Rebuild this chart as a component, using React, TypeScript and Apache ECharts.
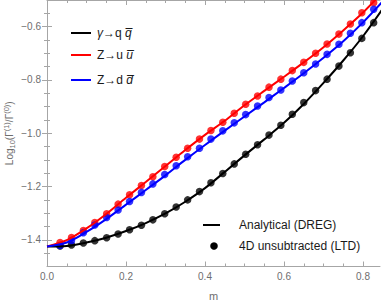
import React, { useEffect, useRef } from "react";
import * as echarts from "echarts";

// m values of the 4D unsubtracted (LTD) points
const mDots = [
  0.033, 0.062, 0.092, 0.121, 0.151, 0.18, 0.209, 0.239, 0.268, 0.298, 0.327, 0.356, 0.386, 0.415,
  0.445, 0.474, 0.503, 0.533, 0.562, 0.592, 0.621, 0.65, 0.68, 0.709, 0.739, 0.768, 0.797, 0.827,
];
const blackDots = [
  -1.423, -1.419, -1.412, -1.403, -1.392, -1.378, -1.362, -1.345, -1.325, -1.302, -1.277, -1.25, -1.219, -1.186,
  -1.151, -1.115, -1.079, -1.043, -1.007, -0.97, -0.929, -0.885, -0.84, -0.797, -0.748, -0.698, -0.644, -0.585,
];
const redDots = [
  -1.41, -1.391, -1.365, -1.335, -1.302, -1.266, -1.231, -1.196, -1.163, -1.125, -1.09, -1.056, -1.022, -0.99,
  -0.959, -0.925, -0.891, -0.86, -0.827, -0.797, -0.765, -0.734, -0.7, -0.665, -0.628, -0.59, -0.548, -0.51,
];
const blueDots = [
  -1.421, -1.403, -1.373, -1.344, -1.316, -1.288, -1.256, -1.222, -1.19, -1.155, -1.122, -1.088, -1.056, -1.022,
  -0.991, -0.961, -0.93, -0.898, -0.866, -0.838, -0.804, -0.773, -0.74, -0.704, -0.666, -0.625, -0.585, -0.535,
];

// Analytical (DREG) curves
const mLine = [0, 0.05, 0.1, 0.15, 0.2, 0.25, 0.3, 0.35, 0.4, 0.45, 0.5, 0.55, 0.6, 0.65, 0.7, 0.75, 0.8, 0.85];
const blackLine = [
  -1.425, -1.423, -1.41, -1.392, -1.367, -1.337, -1.301, -1.257, -1.206, -1.145, -1.083, -1.023, -0.961, -0.89,
  -0.811, -0.727, -0.636, -0.533,
];
const redLine = [
  -1.425, -1.401, -1.357, -1.303, -1.242, -1.183, -1.123, -1.063, -1.006, -0.953, -0.895, -0.841, -0.788, -0.734,
  -0.677, -0.614, -0.547, -0.47,
];
const blueLine = [
  -1.425, -1.41, -1.37, -1.322, -1.268, -1.213, -1.158, -1.1, -1.044, -0.99, -0.937, -0.884, -0.83, -0.775,
  -0.717, -0.655, -0.584, -0.505,
];

const xMajor = [0, 0.2, 0.4, 0.6, 0.8];
const xMinor = [0.05, 0.1, 0.15, 0.25, 0.3, 0.35, 0.45, 0.5, 0.55, 0.65, 0.7, 0.75];
const yMajor = [-1.4, -1.2, -1.0, -0.8, -0.6];
const yMinor = [-1.45, -1.35, -1.3, -1.25, -1.15, -1.1, -1.05, -0.95, -0.9, -0.85, -0.75, -0.7, -0.65, -0.55];

const X_MIN = 0;
const X_MAX = 0.843;
const Y_MIN = -1.5;
const Y_MAX = -0.5;

const FRAME = "#a6a6a6";
const LABEL = "#6e6e6e";
const FONT = "Liberation Sans, Arial, sans-serif";

export default function App() {
  const ref = useRef<HTMLDivElement>(null);
  useEffect(() => {
    if (!ref.current) return;
    const chart = echarts.init(ref.current, null, { renderer: "svg" });
    const fmt = (v: number) => (v < 0 ? "\u2212" + Math.abs(v).toFixed(1) : v.toFixed(1));
    const frameX = (pos: string, grid: number, vals: number[], len: number, major: boolean, labels: boolean) => ({
      type: "value",
      gridIndex: grid,
      position: pos,
      min: X_MIN,
      max: X_MAX,
      axisLine: { show: major, lineStyle: { color: FRAME, width: 1 } },
      axisTick: { show: true, inside: true, length: len, customValues: vals, lineStyle: { color: FRAME } },
      axisLabel: labels
        ? { show: true, customValues: vals, formatter: fmt, color: LABEL, fontSize: 10, fontFamily: FONT, margin: 5 }
        : { show: false },
      splitLine: { show: false },
    });
    const frameY = (pos: string, grid: number, vals: number[], len: number, major: boolean, labels: boolean) => ({
      type: "value",
      gridIndex: grid,
      position: pos,
      min: Y_MIN,
      max: Y_MAX,
      axisLine: { show: major, lineStyle: { color: FRAME, width: 1 } },
      axisTick: { show: true, inside: true, length: len, customValues: vals, lineStyle: { color: FRAME } },
      axisLabel: labels
        ? { show: true, customValues: vals, formatter: fmt, color: LABEL, fontSize: 10, fontFamily: FONT, margin: 6 }
        : { show: false },
      splitLine: { show: false },
    });
    const xa0: any = frameX("bottom", 0, xMajor, 5, true, true);
    xa0.name = "m";
    xa0.nameLocation = "middle";
    xa0.nameGap = 24;
    xa0.nameMoveOverlap = false;
    xa0.nameTextStyle = { color: LABEL, fontSize: 11, fontFamily: FONT };
    const ya0: any = frameY("left", 0, yMajor, 5, true, true);
    ya0.name = "Log{sub|10}(Γ{sup|(1)}/Γ{sup|(0)})";
    ya0.nameLocation = "middle";
    ya0.nameGap = 31;
    ya0.nameMoveOverlap = false;
    ya0.nameRotate = 90;
    ya0.nameTextStyle = {
      color: LABEL,
      fontSize: 10,
      fontFamily: FONT,
      lineHeight: 14,
      rich: {
        sub: { fontSize: 7.5, color: LABEL, fontFamily: FONT, verticalAlign: "bottom", lineHeight: 14 },
        sup: { fontSize: 7.5, color: LABEL, fontFamily: FONT, verticalAlign: "top", lineHeight: 14 },
      },
    };

    const lineSeries = (data: number[], color: string) => ({
      type: "line",
      xAxisIndex: 0,
      yAxisIndex: 0,
      data: mLine.map((m, i) => [m, data[i]]),
      showSymbol: false,
      smooth: 0.3,
      lineStyle: { color, width: 2 },
      clip: true,
      silent: true,
    });
    const dotSeries = (data: number[], color: string) => ({
      type: "scatter",
      xAxisIndex: 0,
      yAxisIndex: 0,
      data: mDots.map((m, i) => [m, data[i]]),
      symbol: "circle",
      symbolSize: 7.5,
      itemStyle: { color },
      clip: true,
      silent: true,
    });

    const txt = { fontSize: 12, fontFamily: FONT, fill: "#1a1a1a" };
    const gridBox = { left: 47, right: 2, top: 0, bottom: 36.5, containLabel: false, outerBoundsMode: "none" };
    chart.setOption({
      animation: false,
      grid: [{ ...gridBox }, { ...gridBox }],
      xAxis: [
        xa0,
        frameX("top", 0, xMajor, 5, true, false),
        frameX("bottom", 1, xMinor, 3, false, false),
        frameX("top", 1, xMinor, 3, false, false),
      ],
      yAxis: [
        ya0,
        frameY("right", 0, yMajor, 5, true, false),
        frameY("left", 1, yMinor, 3, false, false),
        frameY("right", 1, yMinor, 3, false, false),
      ],
      series: [
        lineSeries(blackLine, "#000000"),
        lineSeries(redLine, "#ff0000"),
        lineSeries(blueLine, "#0000ff"),
        dotSeries(blackDots, "#000000"),
        dotSeries(redDots, "#ff0000"),
        dotSeries(blueDots, "#0000ff"),
      ],
      graphic: [
        { type: "line", shape: { x1: 71, y1: 33, x2: 91, y2: 33 }, style: { stroke: "#000", lineWidth: 2 } },
        { type: "line", shape: { x1: 71, y1: 55, x2: 91, y2: 55 }, style: { stroke: "#ff0000", lineWidth: 2 } },
        { type: "line", shape: { x1: 71, y1: 80, x2: 91, y2: 80 }, style: { stroke: "#0000ff", lineWidth: 2 } },
        {
          type: "text",
          x: 97,
          y: 33,
          style: {
            text: "{i|γ}→q {i|q\u0305}",
            ...txt,
            verticalAlign: "middle",
            rich: { i: { fontStyle: "italic", fontSize: 12, fontFamily: FONT, fill: "#1a1a1a" } },
          },
        },
        {
          type: "text",
          x: 97,
          y: 55,
          style: {
            text: "Z→u {i|u\u0305}",
            ...txt,
            verticalAlign: "middle",
            rich: { i: { fontStyle: "italic", fontSize: 12, fontFamily: FONT, fill: "#1a1a1a" } },
          },
        },
        {
          type: "text",
          x: 97,
          y: 80,
          style: {
            text: "Z→d {i|d\u0305}",
            ...txt,
            verticalAlign: "middle",
            rich: { i: { fontStyle: "italic", fontSize: 12, fontFamily: FONT, fill: "#1a1a1a" } },
          },
        },
        { type: "line", shape: { x1: 203, y1: 225, x2: 220, y2: 225 }, style: { stroke: "#000", lineWidth: 2 } },
        { type: "text", x: 239, y: 225, style: { text: "Analytical (DREG)", ...txt, verticalAlign: "middle" } },
        { type: "circle", shape: { cx: 214, cy: 246, r: 3.8 }, style: { fill: "#000" } },
        { type: "text", x: 239, y: 246, style: { text: "4D unsubtracted (LTD)", ...txt, verticalAlign: "middle" } },
      ],
    });
    return () => chart.dispose();
  }, []);
  return <div ref={ref} style={{ width: 382, height: 303, position: "absolute", left: 0, top: 0 }} />;
}
